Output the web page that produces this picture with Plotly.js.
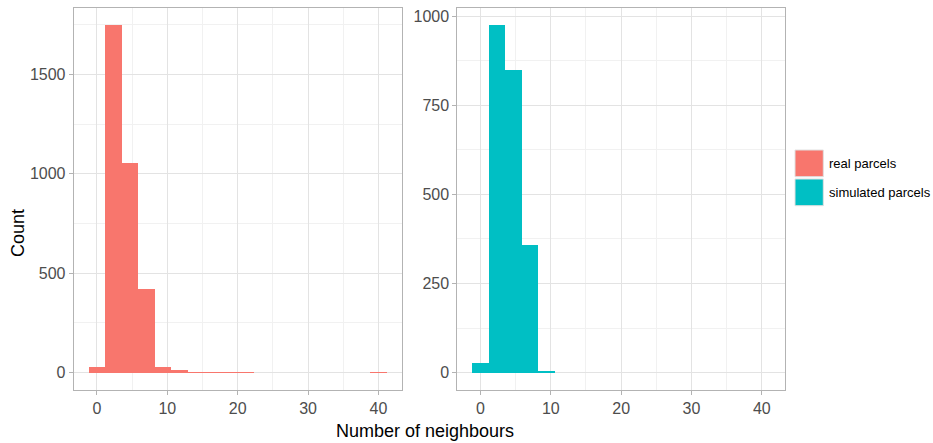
<!DOCTYPE html>
<html>
<head>
<meta charset="utf-8">
<script src="https://cdn.plot.ly/plotly-3.0.1.min.js"></script>
<style>html,body{margin:0;padding:0;background:#fff;}#chart{width:933px;height:443px;}</style>
</head>
<body>
<div id="chart"></div>
<script>
// Bin centres (binwidth = 40/17)
const binWidth = 40 / 17;
const binCenters = Array.from({length: 18}, (_, i) => i * binWidth);
// Counts
const realCounts = [27, 1746, 1054, 421, 30, 13, 3, 2, 1, 1, 0, 0, 0, 0, 0, 0, 0, 1];
const simCounts  = [26, 974, 850, 359, 4, 0, 0, 0, 0, 0, 0, 0, 0, 0, 0, 0, 0, 0];
const seriesNames = ["real parcels", "simulated parcels"];
const seriesColors = ["#F8766D", "#00BFC4"];
const xTicks = [0, 10, 20, 30, 40];
const yTicksLeft = [0, 500, 1000, 1500];
const yTicksRight = [0, 250, 500, 750, 1000];

const W = 933, H = 443;
const px = x => x / W;
const py = y => (H - y) / H;

const font = "Liberation Sans, Arial, sans-serif";

const traces = [
  {type: "bar", x: binCenters, y: realCounts, width: binWidth, marker: {color: seriesColors[0], line: {width: 0}},
   xaxis: "x", yaxis: "y", name: seriesNames[0], showlegend: false},
  {type: "bar", x: binCenters, y: simCounts, width: binWidth, marker: {color: seriesColors[1], line: {width: 0}},
   xaxis: "x2", yaxis: "y2", name: seriesNames[1], showlegend: false}
];

const xRange = [-1.176 - 2.1176, 41.176 + 2.1176];
function xax(domain, anchor) {
  return {
    domain: domain, anchor: anchor, range: xRange,
    tickvals: xTicks, ticktext: xTicks.map(String),
    ticks: "outside", ticklen: 4, tickwidth: 1, tickcolor: "#B3B3B3",
    showline: true, mirror: true, linecolor: "#B3B3B3", linewidth: 1,
    showgrid: true, gridcolor: "#E3E3E3", gridwidth: 1, zeroline: false,
    minor: {dtick: 10, tick0: 5, showgrid: true, gridcolor: "#F1F1F1", gridwidth: 1},
    tickfont: {family: font, size: 16, color: "#4D4D4D"}
  };
}
function yax(domain, anchor, range, ticks, minorTick0, minorD) {
  return {
    domain: domain, anchor: anchor, range: range,
    tickvals: ticks, ticktext: ticks.map(String),
    ticks: "outside", ticklen: 4, tickwidth: 1, tickcolor: "#B3B3B3",
    showline: true, mirror: true, linecolor: "#B3B3B3", linewidth: 1,
    showgrid: true, gridcolor: "#E3E3E3", gridwidth: 1, zeroline: false,
    minor: {dtick: minorD, tick0: minorTick0, showgrid: true, gridcolor: "#F1F1F1", gridwidth: 1},
    tickfont: {family: font, size: 16, color: "#4D4D4D"}
  };
}

const yDomain = [py(390), py(8)];
const layout = {
  width: W, height: H,
  margin: {l: 0, r: 0, t: 0, b: 0},
  paper_bgcolor: "#ffffff", plot_bgcolor: "#ffffff",
  bargap: 0,
  showlegend: false,
  xaxis: xax([px(73.7), px(401.7)], "y"),
  xaxis2: xax([px(457.3), px(785)], "y2"),
  yaxis: yax(yDomain, "x", [-87.3, 1833.3], yTicksLeft, 250, 500),
  yaxis2: yax(yDomain, "x2", [-48.7, 1022.7], yTicksRight, 125, 250),
  shapes: [
    {type: "rect", xref: "paper", yref: "paper", x0: px(795), x1: px(823.3), y0: py(176.7), y1: py(150),
     fillcolor: seriesColors[0], line: {color: "#E0E0E0", width: 1}},
    {type: "rect", xref: "paper", yref: "paper", x0: px(795), x1: px(823.3), y0: py(205.7), y1: py(179),
     fillcolor: seriesColors[1], line: {color: "#E0E0E0", width: 1}}
  ],
  annotations: [
    {text: seriesNames[0], xref: "paper", yref: "paper", x: px(826.5), y: py(163.3), xanchor: "left", yanchor: "middle",
     showarrow: false, font: {family: font, size: 13, color: "#000"}},
    {text: seriesNames[1], xref: "paper", yref: "paper", x: px(826.5), y: py(192.3), xanchor: "left", yanchor: "middle",
     showarrow: false, font: {family: font, size: 13, color: "#000"}},
    {text: "Number of neighbours", xref: "paper", yref: "paper", x: px(425), y: py(431), xanchor: "center", yanchor: "middle",
     showarrow: false, font: {family: font, size: 18, color: "#000"}},
    {text: "Count", xref: "paper", yref: "paper", x: px(18), y: py(233), xanchor: "center", yanchor: "middle",
     textangle: -90, showarrow: false, font: {family: font, size: 18, color: "#000"}}
  ]
};

Plotly.newPlot("chart", traces, layout, {displayModeBar: false, staticPlot: true});
</script>
</body>
</html>
